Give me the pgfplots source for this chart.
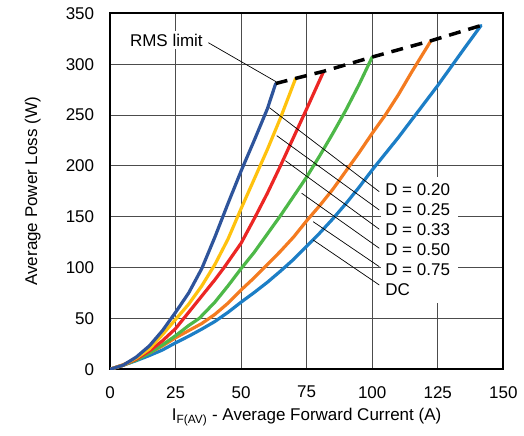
\documentclass[border=0pt]{standalone}
\usepackage{fontspec}
\setmainfont{Liberation Sans}
\usepackage{pgfplots}
\pgfplotsset{compat=1.18}

\definecolor{cA}{RGB}{46,84,155}   % D = 0.20
\definecolor{cB}{RGB}{255,194,14}  % D = 0.25
\definecolor{cC}{RGB}{236,38,36}   % D = 0.33
\definecolor{cD}{RGB}{77,184,72}   % D = 0.50
\definecolor{cE}{RGB}{244,123,32}  % D = 0.75
\definecolor{cF}{RGB}{28,126,198}  % DC

\begin{document}
\fontsize{17bp}{20bp}\selectfont
\begin{tikzpicture}
\useasboundingbox (0,0) rectangle (524bp,436bp);
\begin{axis}[
    at={(110bp,66.7bp)}, anchor=south west,
    scale only axis, width=393.3bp, height=356bp,
    xmin=0, xmax=150, ymin=0, ymax=350,
    xtick={0,25,...,150}, ytick={0,50,...,350},
    grid=major,
    major grid style={line width=0.9bp, color=black!70},
    axis line style={line width=2bp},
    major tick length=0pt,
    ticklabel style={font=\fontsize{17bp}{20bp}\selectfont},
    /pgf/number format/assume math mode=true,
    xticklabel shift=11bp, yticklabel shift=10bp,
    xlabel={I\textsubscript{F(AV)} - Average Forward Current (A)},
    ylabel={Average Power Loss (W)},
    label style={font=\fontsize{17bp}{20bp}\selectfont},
    xlabel style={at={(axis description cs:0.5,-0.1452)}, anchor=base},
    ylabel style={at={(axis description cs:-0.1856,0.5)}, anchor=base},
    every axis plot/.append style={line width=3.2bp, line join=round, line cap=round},
]
% DC
\addplot[cF] coordinates {
    (0,0) (5,4) (10,8.5) (15,13.5) (20,19) (25,26) (30,32.5) (35,39.5) (40,47)
    (45,56) (50,66) (55,75.5) (60,85.5) (65,96.5) (70,108) (75,121) (80,134) (85,148)
    (90,163) (95,179) (100,196) (105,212) (110,228) (115,245) (120,262) (125,279)
    (130,297) (135,315) (141.5,338)
};
% D = 0.75
\addplot[cE] coordinates {
    (0,0) (5,4.5) (10,10) (15,16) (20,23) (25,31) (30,38) (35,45) (40,54) (45,65)
    (50,78) (55,90) (60,103) (65,116) (70,130) (75,146) (80,161) (85,177) (90,195)
    (95,213) (100,232) (105,250) (110,270) (115,292) (122.4,323)
};
% D = 0.50
\addplot[cD] coordinates {
    (0,0) (5,4) (10,9) (15,16) (20,24) (25,33) (30,43) (34,50) (40,66) (45,82)
    (50,99) (55,115) (60,133) (65,151) (70,170) (75,189) (80,210) (85,232) (90,255)
    (95,280) (100,307)
};
% D = 0.33
\addplot[cC] coordinates {
    (0,0) (5,4) (10,10) (15,18) (20,28) (25,40) (30,56) (35,72) (40,88) (43.5,100)
    (50,124) (55,148) (60,173) (65,200) (70,228) (75,256) (81.5,293)
};
% D = 0.25
\addplot[cB] coordinates {
    (0,0) (5,4) (10,11) (15,20) (20,34) (25,49) (30,64) (35,82) (40,103) (45,128)
    (50,158) (55,187) (60,216) (65,247) (70.8,286)
};
% D = 0.20
\addplot[cA] coordinates {
    (0,0) (5,4) (10,12) (15,23) (20,38) (25,56) (30,75) (35,99) (40,130) (45,163)
    (50,195) (55,225) (60,256) (63.2,281)
};
% RMS limit
\addplot[black, line width=3.5bp, line cap=butt, dash pattern=on 12bp off 8bp] coordinates {
    (63.2,281) (70.8,286) (81.5,293) (100,307) (122.4,323) (141.5,338)
};

% annotations
\fill[white] (axis cs:103.4,65.2) rectangle (axis cs:132.7,189.1);
\node[fill=white, inner sep=3bp] at (axis cs:21.5,323.8) {RMS limit};
\draw[line width=0.7bp] (axis cs:37.5,321.1) -- (axis cs:63.3,282.8);

\draw[line width=0.7bp] (axis cs:60.8,257.2) -- (axis cs:102.7,174.6);
\draw[line width=0.7bp] (axis cs:63.6,229.7) -- (axis cs:102.7,156.6);
\draw[line width=0.7bp] (axis cs:66.9,205.1) -- (axis cs:102.7,137.7);
\draw[line width=0.7bp] (axis cs:73.1,173.1) -- (axis cs:102.7,119.0);
\draw[line width=0.7bp] (axis cs:77.5,145.1) -- (axis cs:102.7,100.9);
\draw[line width=0.7bp] (axis cs:77.5,127.1) -- (axis cs:102.7,82.9);

\node[anchor=west, inner sep=0pt] at (axis cs:104.9,176.3) {D = 0.20};
\node[anchor=west, inner sep=0pt] at (axis cs:104.9,156.6) {D = 0.25};
\node[anchor=west, inner sep=0pt] at (axis cs:104.9,137.0) {D = 0.33};
\node[anchor=west, inner sep=0pt] at (axis cs:104.9,117.3) {D = 0.50};
\node[anchor=west, inner sep=0pt] at (axis cs:104.9,97.6) {D = 0.75};
\node[anchor=west, inner sep=0pt] at (axis cs:104.9,78.0) {DC};
\end{axis}
\end{tikzpicture}
\end{document}
